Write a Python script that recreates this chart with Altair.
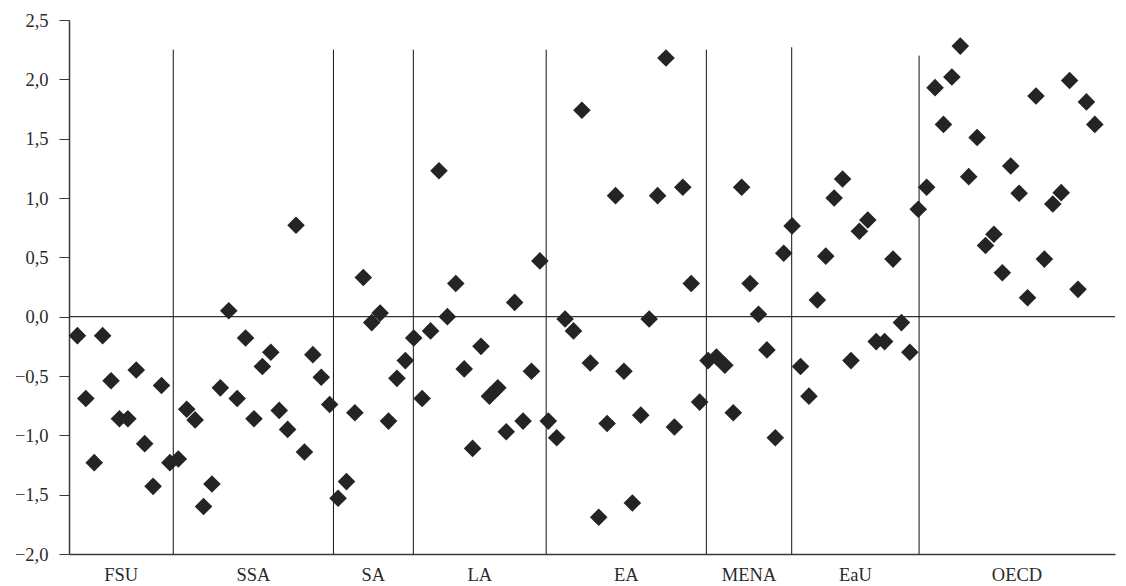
import altair as alt
import pandas as pd

# ---- data ----
groups = ["FSU", "SSA", "SA", "LA", "EA", "MENA", "EaU", "OECD"]

fsu = [-0.16, -0.69, -1.23, -0.16, -0.54, -0.86, -0.86, -0.45, -1.07, -1.43, -0.58, -1.23]
ssa = [-1.20, -0.78, -0.87, -1.60, -1.41, -0.60, 0.05, -0.69, -0.18, -0.86, -0.42, -0.30,
       -0.79, -0.95, 0.77, -1.14, -0.32, -0.51, -0.74]
sa = [-1.53, -1.39, -0.81, 0.33, -0.05, 0.03, -0.88, -0.52, -0.37, -0.18]
la = [-0.69, -0.12, 1.23, 0.00, 0.28, -0.44, -1.11, -0.25, -0.67, -0.60, -0.97, 0.12,
      -0.88, -0.46, 0.47]
ea = [-0.88, -1.02, -0.02, -0.12, 1.74, -0.39, -1.69, -0.90, 1.02, -0.46, -1.57, -0.83,
      -0.02, 1.02, 2.18, -0.93, 1.09, 0.28, -0.72, -0.37]
mena = [-0.34, -0.41, -0.81, 1.09, 0.28, 0.02, -0.28, -1.02, 0.535, 0.765]
eau = [-0.42, -0.67, 0.14, 0.51, 1.00, 1.16, -0.37, 0.72, 0.815, -0.21, -0.21, 0.485,
       -0.05, -0.30, 0.905]
oecd = [1.09, 1.93, 1.62, 2.02, 2.28, 1.18, 1.51, 0.60, 0.695, 0.37, 1.27, 1.04, 0.16,
        1.86, 0.485, 0.95, 1.045, 1.99, 0.23, 1.81, 1.62]

# group separators (in country-index units) and their top values
boundaries = [12.4, 31.45, 40.95, 56.75, 75.8, 85.95, 101.1]
boundary_tops = [2.25, 2.25, 2.25, 2.25, 2.25, 2.27, 2.2]
x_max = 124.4
y_ticks = [-2.0, -1.5, -1.0, -0.5, 0.0, 0.5, 1.0, 1.5, 2.0, 2.5]

# ---- tables ----
values = fsu + ssa + sa + la + ea + mena + eau + oecd
pts = pd.DataFrame({"idx": list(range(1, len(values) + 1)), "value": values})

sep = pd.DataFrame({"x": boundaries, "top": boundary_tops,
                    "bottom": [-2.0] * len(boundaries)})
edges = [0.0] + boundaries + [x_max]
lab = pd.DataFrame({"center": [(edges[i] + edges[i + 1]) / 2 for i in range(len(groups))],
                    "group": groups})
zero = pd.DataFrame({"y": [0.0]})

FONT = "Liberation Serif"
TEXT = "#2a2a2a"
x_scale = alt.Scale(domain=[0, x_max], nice=False, zero=False)
y_scale = alt.Scale(domain=[-2.0, 2.5], nice=False, zero=False)

x_axis = alt.Axis(title=None, labels=False, ticks=False, grid=False,
                  domainColor="#3a3a3a", domainWidth=1.5)
y_axis = alt.Axis(title=None, values=y_ticks, grid=False,
                  labelExpr="replace(format(datum.value, '.1f'), '.', ',')",
                  tickSize=10, tickColor="#3a3a3a", tickWidth=1,
                  domainColor="#3a3a3a", domainWidth=1.5,
                  labelPadding=11, labelFont=FONT, labelFontSize=18.5,
                  labelColor=TEXT)

zero_line = alt.Chart(zero).mark_rule(color="#333333", strokeWidth=1.2).encode(
    y=alt.Y("y:Q", scale=y_scale, axis=y_axis)
)

separators = alt.Chart(sep).mark_rule(color="#111111", strokeWidth=1).encode(
    x=alt.X("x:Q", scale=x_scale, axis=x_axis),
    y=alt.Y("top:Q", scale=y_scale, axis=y_axis),
    y2="bottom:Q",
)

points = alt.Chart(pts).mark_point(
    shape="diamond", filled=True, size=310, color="#242424", opacity=1
).encode(
    x=alt.X("idx:Q", scale=x_scale, axis=x_axis),
    y=alt.Y("value:Q", scale=y_scale, axis=y_axis),
)

labels = alt.Chart(lab).mark_text(
    font=FONT, fontSize=18.5, color=TEXT, baseline="middle", align="center"
).encode(
    x=alt.X("center:Q", scale=x_scale, axis=x_axis),
    y=alt.value(555),
    text="group:N",
)

chart = alt.layer(zero_line, separators, points, labels).properties(
    width=1046, height=534,
    padding={"left": 61, "top": 12, "right": 3, "bottom": 32},
    autosize=alt.AutoSizeParams(type="none"),
    background="white",
).configure_view(stroke=None)

chart.save("out.html", embed_options={"renderer": "svg", "actions": False})
